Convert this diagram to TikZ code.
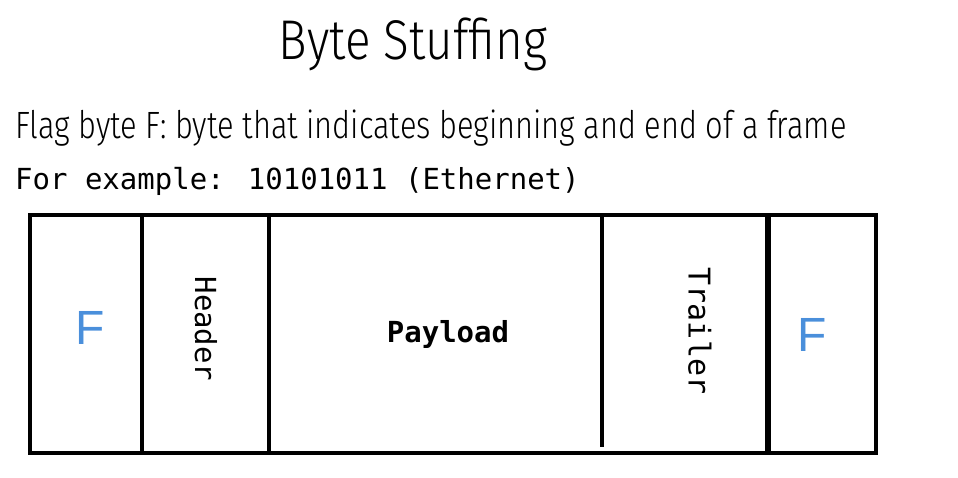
\documentclass[tikz,border=0pt]{standalone}
\usepackage{fontspec}
\setmainfont{Fira Sans}
\newfontfamily\handfont[FakeStretch=0.85]{Fira Sans Light}
\newfontfamily\handfontb[FakeStretch=0.81]{Fira Sans Light}
\newfontfamily\monofont{DejaVu Sans Mono}
\newfontfamily\labfont{Liberation Sans}
\definecolor{flagblue}{HTML}{4A8FDB}
\begin{document}
\begin{tikzpicture}[x=1pt,y=-1pt,
  frameline/.style={line width=4pt,black},
  monolab/.style={font=\monofont\fontsize{29}{31}\selectfont,inner sep=0pt},
  flaglab/.style={font=\labfont\fontsize{48}{50}\selectfont,text=flagblue,inner sep=0pt}]
\useasboundingbox (0,0) rectangle (958,478);
\node[font=\handfont\fontsize{56}{60}\selectfont,anchor=base,inner sep=0pt] (title) at (413,60) {Byte Stuffing};
\node[font=\handfontb\fontsize{38}{40}\selectfont,anchor=base west,inner sep=0pt] (def) at (15,139) {Flag byte F: byte that indicates beginning and end of a frame};
\node[font=\monofont\fontsize{29}{31}\selectfont,anchor=base west,inner sep=0pt] (ex) at (15,190) {For example: 10101011 (Ethernet)};
% frame
\coordinate (tl) at (30,215);
\coordinate (br) at (876,453);
\draw[frameline] (tl) rectangle (br);
\coordinate (d1t) at (142,215); \coordinate (d1b) at (142,453);
\coordinate (d2t) at (269,215); \coordinate (d2b) at (269,453);
\coordinate (d3t) at (602,215); \coordinate (d3b) at (602,447);
\coordinate (d4t) at (768,215); \coordinate (d4b) at (768,453);
\draw[frameline] (d1t) -- (d1b);
\draw[frameline] (d2t) -- (d2b);
\draw[frameline] (d3t) -- (d3b);
\draw[line width=6pt] (d4t) -- (d4b);
\node[flaglab] (f1) at (90,328) {F};
\node[monolab,rotate=-90] (hdr) at (206,329) {Header};
\node[monolab,font=\monofont\bfseries\fontsize{29}{31}\selectfont] (pay) at (448,334) {Payload};
\node[monolab,font=\monofont\fontsize{30}{32}\selectfont,rotate=-90] (trl) at (700,331) {Trailer};
\node[flaglab] (f2) at (812,335) {F};
\end{tikzpicture}
\end{document}
